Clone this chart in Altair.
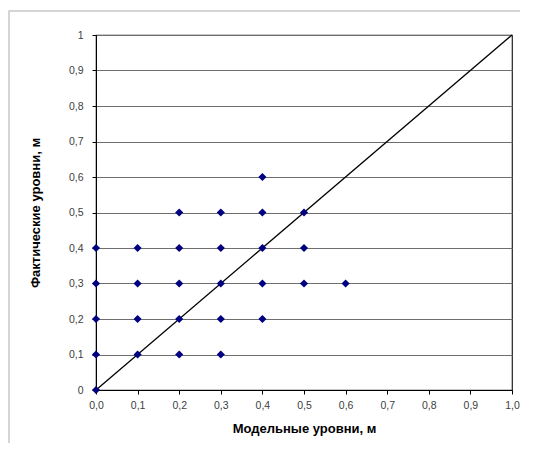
import altair as alt
import pandas as pd

# Observed points: model level (x) vs actual level (y)
model_levels = [0.4,
                0.2, 0.3, 0.4, 0.5,
                0.0, 0.1, 0.2, 0.3, 0.4, 0.5,
                0.0, 0.1, 0.2, 0.3, 0.4, 0.5, 0.6,
                0.0, 0.1, 0.2, 0.3, 0.4,
                0.0, 0.1, 0.2, 0.3,
                0.0]
actual_levels = [0.6,
                 0.5, 0.5, 0.5, 0.5,
                 0.4, 0.4, 0.4, 0.4, 0.4, 0.4,
                 0.3, 0.3, 0.3, 0.3, 0.3, 0.3, 0.3,
                 0.2, 0.2, 0.2, 0.2, 0.2,
                 0.1, 0.1, 0.1, 0.1,
                 0.0]

# 1:1 reference line
line_x = [0.0, 1.0]
line_y = [0.0, 1.0]

tick_values = [0.0, 0.1, 0.2, 0.3, 0.4, 0.5, 0.6, 0.7, 0.8, 0.9, 1.0]

x_title = "Модельные уровни, м"
y_title = "Фактические уровни, м"

pts = pd.DataFrame({"x": model_levels, "y": actual_levels})
diag = pd.DataFrame({"x": line_x, "y": line_y})

FONT = "Liberation Sans"

x_scale = alt.Scale(domain=[0, 1], nice=False, zero=False)
y_scale = alt.Scale(domain=[0, 1], nice=False, zero=False)

x_axis = alt.Axis(
    values=tick_values,
    tickCount=11,
    labelExpr="replace(format(datum.value, '.1f'), '.', ',')",
    labelOverlap=False,
    labelFlush=False,
    grid=False,
    domainColor="#000000",
    tickColor="#000000",
    tickSize=4,
    labelPadding=6,
    labelFont=FONT,
    labelFontSize=10.5,
    labelColor="#404040",
    title=x_title,
    titleFont=FONT,
    titleFontSize=13,
    titleFontWeight="bold",
    titleColor="#000000",
    titlePadding=12,
)

y_axis = alt.Axis(
    values=tick_values,
    tickCount=11,
    labelExpr="datum.value == 0 ? '0' : datum.value == 1 ? '1' : replace(format(datum.value, '.1f'), '.', ',')",
    labelOverlap=False,
    labelFlush=False,
    grid=True,
    gridColor="#6e6e6e",
    gridWidth=1,
    domainColor="#000000",
    tickColor="#000000",
    tickSize=4,
    labelPadding=9,
    labelFont=FONT,
    labelFontSize=10.5,
    labelColor="#404040",
    title=y_title,
    titleFont=FONT,
    titleFontSize=13,
    titleFontWeight="bold",
    titleColor="#000000",
    titleAngle=270,
    titleX=-61,
    titleY=177.5,
    titleAlign="center",
    titleBaseline="middle",
)

border = alt.Chart(pd.DataFrame({"a": [0]})).mark_rect(
    fillOpacity=0, stroke="#c8c8c8", strokeWidth=1.5
).encode(
    x=alt.value(-87), x2=alt.value(460), y=alt.value(-24), y2=alt.value(430)
)

line = alt.Chart(diag).mark_line(color="#000000", strokeWidth=1.3).encode(
    x=alt.X("x:Q", scale=x_scale, axis=x_axis),
    y=alt.Y("y:Q", scale=y_scale, axis=y_axis),
)

points = alt.Chart(pts).mark_point(
    shape="diamond", filled=True, color="#000080", size=66, opacity=1
).encode(
    x=alt.X("x:Q", scale=x_scale, axis=x_axis),
    y=alt.Y("y:Q", scale=y_scale, axis=y_axis),
)

chart = alt.layer(border, line, points).properties(
    width=416,
    height=355,
    padding={"left": 88, "top": 27, "right": 8, "bottom": 53},
    autosize=alt.AutoSizeParams(type="none"),
    background="#ffffff",
).configure_view(stroke="#202020", strokeWidth=1.2)

chart.save("out.html", embed_options={"renderer": "svg", "actions": False})
